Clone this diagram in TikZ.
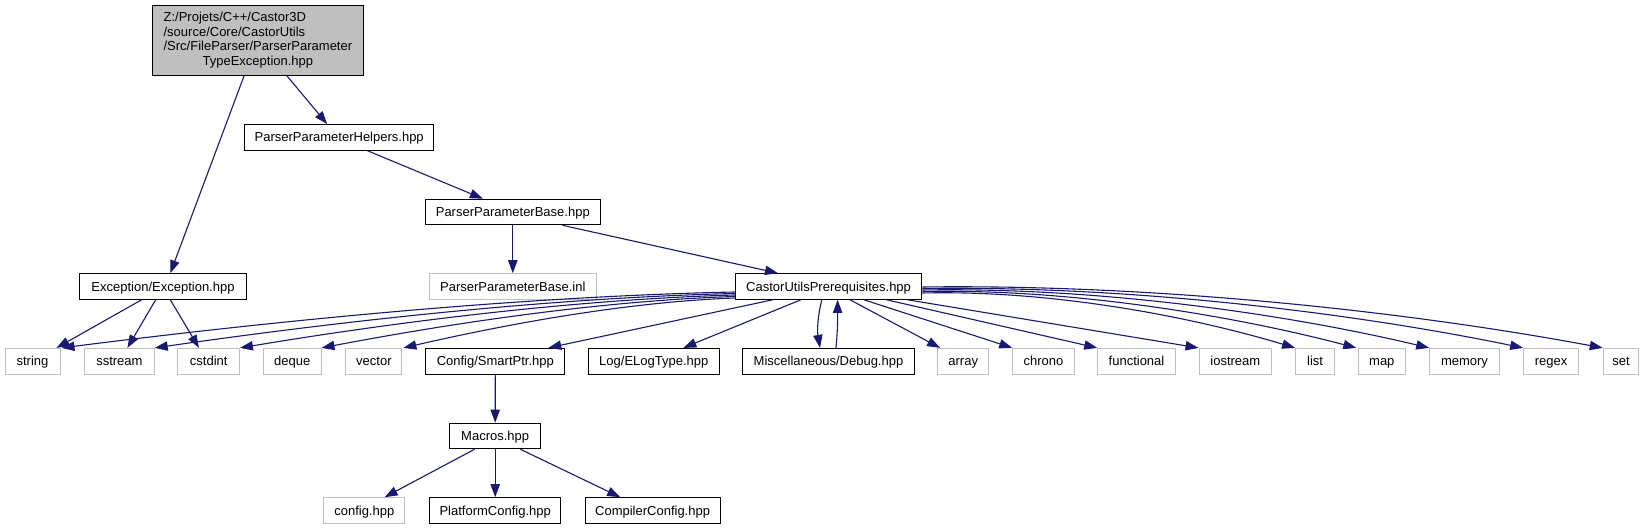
\documentclass[tikz,border=0pt]{standalone}
\usepackage{fontspec}
\setmainfont{Liberation Sans}
\usetikzlibrary{arrows.meta}
\definecolor{edgec}{HTML}{191970}
\definecolor{greyb}{HTML}{BFBFBF}
\begin{document}
\begin{tikzpicture}[x=1pt,y=-1pt,
  box/.style={draw=black, line width=1pt, fill=white, inner sep=0pt, minimum height=25.6pt,
              text height=11pt, text depth=2pt, font=\fontsize{13}{15}\selectfont},
  gbox/.style={box, draw=greyb},
  rootbox/.style={draw=black, line width=1pt, fill=greyb, inner sep=0pt, font=\fontsize{13}{14.8}\selectfont},
  edge/.style={draw=edgec, line width=1.1pt, -{Triangle[length=13pt,width=9.3pt]}}]
\useasboundingbox (0,0) rectangle (1649,529);
\fill[white] (0,0) rectangle (1649,529);

% nodes
\node[rootbox, minimum width=210.4pt, minimum height=69.6pt] (root) at (257.9,40.5)
  {\def\arraystretch{1}\begin{tabular}{@{}l@{}}Z:/Projets/C++/Castor3D\\/source/Core/CastorUtils\\/Src/FileParser/ParserParameter\\\multicolumn{1}{@{}c@{}}{TypeException.hpp}\end{tabular}};
\node[box, minimum width=189.4pt] (helpers) at (339.2,137.4) {ParserParameterHelpers.hpp};
\node[box, minimum width=175.4pt] (base) at (512.8,212) {ParserParameterBase.hpp};
\node[gbox, minimum width=166.9pt] (inl) at (512.8,286.5) {ParserParameterBase.inl};
\node[box, minimum width=166.8pt] (exc) at (163,286.5) {Exception/Exception.hpp};
\node[box, minimum width=186.7pt] (cu) at (828.6,286.5) {CastorUtilsPrerequisites.hpp};

\node[gbox, minimum width=55pt] (string) at (32.5,361.2) {string};
\node[gbox, minimum width=69.6pt] (sstream) at (119.4,361.2) {sstream};
\node[gbox, minimum width=61.6pt] (cstdint) at (208.7,361.2) {cstdint};
\node[gbox, minimum width=57.4pt] (deque) at (292.3,361.2) {deque};
\node[gbox, minimum width=55.9pt] (vector) at (373.9,361.2) {vector};
\node[box, minimum width=138.9pt] (smartptr) at (495.3,361.2) {Config/SmartPtr.hpp};
\node[box, minimum width=131.2pt] (log) at (653.8,361.2) {Log/ELogType.hpp};
\node[box, minimum width=171.2pt] (debug) at (828.5,361.2) {Miscellaneous/Debug.hpp};
\node[gbox, minimum width=51.2pt] (array) at (963.2,361.2) {array};
\node[gbox, minimum width=61.3pt] (chrono) at (1043.4,361.2) {chrono};
\node[gbox, minimum width=77.5pt] (functional) at (1136.5,361.2) {functional};
\node[gbox, minimum width=72.6pt] (iostream) at (1235.3,361.2) {iostream};
\node[gbox, minimum width=39pt] (list) at (1315.1,361.2) {list};
\node[gbox, minimum width=47pt] (map) at (1381.8,361.2) {map};
\node[gbox, minimum width=69.6pt] (memory) at (1464.5,361.2) {memory};
\node[gbox, minimum width=54.6pt] (regex) at (1551,361.2) {regex};
\node[gbox, minimum width=35.5pt] (set) at (1621,361.2) {set};

\node[box, minimum width=91.1pt] (macros) at (495.2,436) {Macros.hpp};
\node[gbox, minimum width=81.1pt] (config) at (364.3,510.5) {config.hpp};
\node[box, minimum width=130.9pt] (platform) at (495.2,510.5) {PlatformConfig.hpp};
\node[box, minimum width=135pt] (compiler) at (652.6,510.5) {CompilerConfig.hpp};

% edges
\draw[edge] ([xshift=29pt]root.south) -- ([xshift=-12pt]helpers.north);
\draw[edge] ([xshift=-13.8pt]root.south) -- ([xshift=7.3pt]exc.north);
\draw[edge] ([xshift=28.2pt]helpers.south) -- ([xshift=-29.9pt]base.north);
\draw[edge] (base.south) -- (inl.north);
\draw[edge] ([xshift=49.7pt]base.south) -- ([xshift=-50.6pt]cu.north);

\draw[edge] ([xshift=-21.4pt]exc.south) -- ([xshift=24pt]string.north);
\draw[edge] ([xshift=-7.3pt]exc.south) -- ([xshift=8pt]sstream.north);
\draw[edge] ([xshift=7.3pt]exc.south) -- ([xshift=-9.7pt]cstdint.north);

% CastorUtilsPrerequisites -> left leaves
\draw[edge] ([yshift=-5.5pt]cu.west) .. controls +(-222,4.6) and +(202,-25.6) .. ([xshift=1pt]string.north east);
\draw[edge] ([yshift=-7pt]cu.west) .. controls +(-192,4.4) and +(174,-25) .. (sstream.north east);
\draw[edge] ([yshift=-8.5pt]cu.west) .. controls +(-163,4.4) and +(148.5,-24.8) .. (cstdint.north east);
\draw[edge] ([yshift=-10pt]cu.west) .. controls +(-136,4.2) and +(124,-23.6) .. (deque.north east);
\draw[edge] ([yshift=-11.5pt]cu.west) .. controls +(-110,4) and +(100,-23) .. ([xshift=1pt]vector.north east);

\draw[edge] ([xshift=-55.9pt]cu.south) -- ([xshift=53pt]smartptr.north);
\draw[edge] ([xshift=-27.8pt]cu.south) -- ([xshift=29.5pt]log.north);
\draw[edge] ([xshift=-6.8pt]cu.south) .. controls +(-4,16) and +(-3,-18) .. ([xshift=-8.5pt]debug.north);
\draw[edge] ([xshift=7.4pt]debug.north) .. controls +(2,-18) and +(0,16) .. ([xshift=9pt]cu.south);
\draw[edge] ([xshift=21.4pt]cu.south) -- ([xshift=3pt]array.north west);
\draw[edge] ([xshift=35.4pt]cu.south) -- (chrono.north west);
\draw[edge] ([xshift=58pt]cu.south) -- (functional.north west);
\draw[edge] ([xshift=79pt]cu.south) -- (iostream.north west);

% CastorUtilsPrerequisites -> right leaves
\draw[edge] ([yshift=-6.5pt]cu.east) .. controls +(123,-3) and +(-112,-33.6) .. (list.north west);
\draw[edge] ([yshift=-5pt]cu.east) .. controls +(143,-3) and +(-130,-34) .. ([xshift=-1.5pt]map.north west);
\draw[edge] ([yshift=-3.5pt]cu.east) .. controls +(168,-3) and +(-152,-36) .. (memory.north west);
\draw[edge] ([yshift=-2pt]cu.east) .. controls +(199,-3) and +(-180,-37) .. (regex.north west);
\draw[edge] ([yshift=-0.5pt]cu.east) .. controls +(225,-3) and +(-204,-38) .. (set.north west);

\draw[edge] (smartptr.south) -- (macros.north);
\draw[edge] ([xshift=-20.7pt]macros.south) -- ([xshift=20.3pt]config.north);
\draw[edge] (macros.south) -- (platform.north);
\draw[edge] ([xshift=25.2pt]macros.south) -- ([xshift=-32.4pt]compiler.north);
\end{tikzpicture}
\end{document}
